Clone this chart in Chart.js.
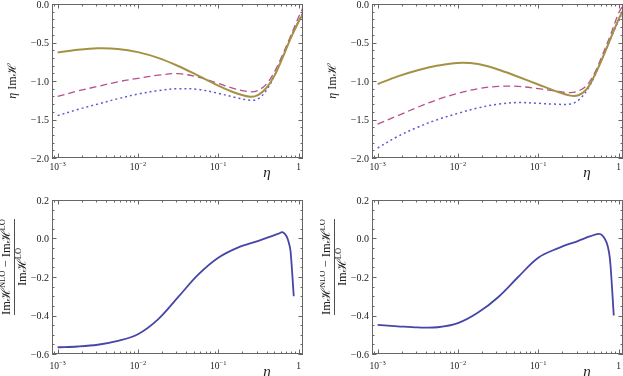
<!DOCTYPE html>
<html>
<head>
<meta charset="utf-8">
<script src="https://cdn.jsdelivr.net/npm/chart.js@4/dist/chart.umd.min.js"></script>
<style>
  html, body { margin: 0; padding: 0; background: #fff; }
  #wrap { position: relative; width: 623px; height: 376px; overflow: hidden; }
  .panel { position: absolute; }
</style>
</head>
<body>
<div id="wrap">
  <div class="panel" style="left:0;top:0"><canvas id="c-tl" width="320" height="185"></canvas></div>
  <div class="panel" style="left:320px;top:0"><canvas id="c-tr" width="303" height="185"></canvas></div>
  <div class="panel" style="left:0;top:185px"><canvas id="c-bl" width="320" height="191"></canvas></div>
  <div class="panel" style="left:320px;top:185px"><canvas id="c-br" width="303" height="191"></canvas></div>
</div>
<script>
// ── Data ──────────────────────────────────────────────────────────────────
const etaTop = [0.001, 0.00178, 0.00316, 0.00562, 0.01, 0.0178, 0.0316, 0.0562, 0.1,
                0.158, 0.251, 0.316, 0.398, 0.501, 0.631, 0.794, 1.0, 1.12];

const tlSolid  = [-0.63, -0.595, -0.575, -0.583, -0.625, -0.70, -0.805, -0.93, -1.06,
                  -1.15, -1.205, -1.18, -1.09, -0.93, -0.70, -0.45, -0.23, -0.14];
const tlDashed = [-1.20, -1.13, -1.07, -1.01, -0.965, -0.925, -0.905, -0.95, -1.03,
                  -1.10, -1.14, -1.12, -1.04, -0.88, -0.66, -0.42, -0.17, -0.06];
const tlDotted = [-1.45, -1.37, -1.30, -1.23, -1.17, -1.125, -1.10, -1.11, -1.16,
                  -1.21, -1.25, -1.23, -1.12, -0.93, -0.69, -0.44, -0.22, -0.12];

const trSolid  = [-1.04, -0.94, -0.86, -0.80, -0.765, -0.78, -0.85, -0.945, -1.045,
                  -1.125, -1.19, -1.185, -1.11, -0.93, -0.70, -0.45, -0.20, -0.10];
const trDashed = [-1.56, -1.45, -1.34, -1.24, -1.16, -1.10, -1.07, -1.07, -1.10,
                  -1.13, -1.15, -1.13, -1.06, -0.90, -0.66, -0.40, -0.12, -0.03];
const trDotted = [-1.87, -1.72, -1.60, -1.50, -1.42, -1.35, -1.30, -1.28, -1.29,
                  -1.30, -1.30, -1.25, -1.13, -0.94, -0.70, -0.45, -0.22, -0.16];

const etaBottom = [0.001, 0.00178, 0.00316, 0.00562, 0.01, 0.0178, 0.0316, 0.0562, 0.1,
                   0.178, 0.316, 0.447, 0.562, 0.631, 0.708, 0.759, 0.794, 0.871];
const blRatio = [-0.565, -0.561, -0.552, -0.532, -0.497, -0.42, -0.305, -0.188, -0.10,
                 -0.046, -0.012, 0.01, 0.025, 0.033, 0.012, -0.025, -0.065, -0.30];
const brRatio = [-0.449, -0.456, -0.462, -0.461, -0.44, -0.385, -0.305, -0.20, -0.10,
                 -0.05, -0.012, 0.012, 0.024, 0.015, -0.02, -0.07, -0.14, -0.40];

const xTickValues = [0.001, 0.01, 0.1, 1];
const xTickLabels = [['10', '−3'], ['10', '−2'], ['10', '−1'], ['1', '']];
const yTicksTop    = [0, -0.5, -1, -1.5, -2];
const yTicksBottom = [0.2, 0, -0.2, -0.4, -0.6];

// ── Styles ────────────────────────────────────────────────────────────────
const SERIF = '"Liberation Serif", "DejaVu Serif", serif';
const FRAME = '#666';
const TEXT  = '#222';
const GOLD    = { borderColor: '#a39243', borderWidth: 2 };
const DASHED  = { borderColor: '#b5508f', borderWidth: 1.3, borderDash: [7, 4] };
const DOTTED  = { borderColor: '#5b5bcf', borderWidth: 1.5, borderDash: [2, 3] };
const RATIO   = { borderColor: '#4646a8', borderWidth: 1.8 };

function font(p) { return `${p[3] || ''} ${p[1]}px ${SERIF}`; }

// draw a run of text pieces [text, size, rise, style]
function runs(ctx, parts, x, y, align) {
  let w = 0;
  parts.forEach(p => { ctx.font = font(p); w += ctx.measureText(p[0]).width; });
  let cx = align === 'center' ? x - w / 2 : align === 'right' ? x - w : x;
  ctx.textAlign = 'left';
  ctx.textBaseline = 'alphabetic';
  parts.forEach(p => {
    ctx.font = font(p);
    ctx.fillText(p[0], cx, y - (p[2] || 0));
    cx += ctx.measureText(p[0]).width;
  });
  return w;
}

// ── Frame, inner ticks, labels (Mathematica look) ─────────────────────────
const framePlugin = {
  id: 'frame',
  afterDatasetsDraw(chart, args, o) {
    const { ctx, chartArea: a, scales: { x, y } } = chart;
    ctx.save();
    ctx.strokeStyle = FRAME;
    ctx.lineWidth = 1;
    ctx.strokeRect(a.left + 0.5, a.top + 0.5, a.right - a.left - 1, a.bottom - a.top - 1);

    ctx.beginPath();
    for (let d = -4; d <= 0; d++) {
      for (let m = 1; m <= 9; m++) {
        const v = m * Math.pow(10, d);
        if (v < x.min || v > x.max) continue;
        const px = Math.round(x.getPixelForValue(v)) + 0.5;
        const len = m === 1 ? 4.5 : 2.5;
        ctx.moveTo(px, a.bottom); ctx.lineTo(px, a.bottom - len);
        ctx.moveTo(px, a.top); ctx.lineTo(px, a.top + len);
      }
    }
    const n = Math.round((o.yMax - o.yMin) / o.yMinor);
    for (let i = 0; i <= n; i++) {
      const v = o.yMin + i * o.yMinor;
      const major = Math.abs(v / o.yMajor - Math.round(v / o.yMajor)) < 1e-6;
      const py = Math.round(y.getPixelForValue(v)) + 0.5;
      const len = major ? 4.5 : 2.5;
      ctx.moveTo(a.left, py); ctx.lineTo(a.left + len, py);
      ctx.moveTo(a.right, py); ctx.lineTo(a.right - len, py);
    }
    ctx.stroke();

    ctx.fillStyle = TEXT;
    // y tick labels
    o.yLabels.forEach(v => {
      const py = y.getPixelForValue(v);
      const s = v.toFixed(1).replace('-', '−');
      runs(ctx, [[s, 10]], a.left - 3, py + 3.5, 'right');
    });
    // x tick labels
    xTickValues.forEach((v, i) => {
      const px = x.getPixelForValue(v);
      const [base, sup] = xTickLabels[i];
      const parts = [[base, 9.5]];
      if (sup) parts.push([sup, 6.5, 4]);
      runs(ctx, parts, px, a.bottom + o.xLabelDy, 'center');
    });
    // eta axis title
    runs(ctx, [['η', 15, 0, 'italic']], 267, a.bottom + o.etaDy, 'center');

    // y axis title (rotated)
    ctx.translate(o.titleX, o.titleY);
    ctx.rotate(-Math.PI / 2);
    if (o.ratio) {
      const num = [['Imℋ', 12.5], ['NLO', 8.5, 5], [' − ', 12.5], ['Imℋ', 12.5], ['LO', 8.5, 5]];
      const den = [['Imℋ', 12.5], ['LO', 8.5, 5]];
      const w = runs(ctx, num, 0, -4, 'center');
      runs(ctx, den, 0, 12, 'center');
      ctx.beginPath();
      ctx.strokeStyle = TEXT;
      ctx.lineWidth = 0.8;
      ctx.moveTo(-w / 2, 0.5); ctx.lineTo(w / 2, 0.5);
      ctx.stroke();
    } else {
      runs(ctx, [['η', 12, 0, 'italic'], [' Imℋ', 12]], 0, 4, 'center');
    }
    ctx.restore();
  }
};

// ── Panel factory ─────────────────────────────────────────────────────────
function panel(id, xs, series, cfg) {
  const canvas = document.getElementById(id);
  const H = canvas.height;
  new Chart(canvas, {
    type: 'line',
    data: {
      datasets: series.map(s => Object.assign({
        data: xs.map((x, i) => ({ x, y: s.values[i] })),
        pointRadius: 0,
        fill: false,
        tension: 0.35,
      }, s.style)),
    },
    options: {
      responsive: false,
      animation: false,
      events: [],
      layout: { padding: { top: cfg.top, right: cfg.right, left: 0, bottom: 0 } },
      plugins: {
        legend: { display: false },
        tooltip: { enabled: false },
        frame: cfg.frame,
      },
      scales: {
        x: {
          type: 'logarithmic',
          min: Math.pow(10, -3.07),
          max: Math.pow(10, 0.055),
          grid: { display: false },
          border: { display: false },
          ticks: { display: false },
          afterFit: s => { s.height = H - cfg.bottom; },
        },
        y: {
          min: cfg.frame.yMin,
          max: cfg.frame.yMax,
          grid: { display: false },
          border: { display: false },
          ticks: { display: false },
          afterFit: s => { s.width = 52; },
        },
      },
    },
    plugins: [framePlugin],
  });
}

const topFrame = {
  yMin: -2, yMax: 0, yMajor: 0.5, yMinor: 0.1, yLabels: yTicksTop,
  xLabelDy: 12, etaDy: 19, titleX: 12, titleY: 81, ratio: false,
};
const bottomFrame = {
  yMin: -0.6, yMax: 0.2, yMajor: 0.2, yMinor: 0.05, yLabels: yTicksBottom,
  xLabelDy: 15, etaDy: 22, titleX: 14, titleY: 82, ratio: true,
};

panel('c-tl', etaTop, [
  { values: tlSolid, style: GOLD },
  { values: tlDashed, style: DASHED },
  { values: tlDotted, style: DOTTED },
], { top: 4, right: 17, bottom: 158, frame: topFrame });

panel('c-tr', etaTop, [
  { values: trSolid, style: GOLD },
  { values: trDashed, style: DASHED },
  { values: trDotted, style: DOTTED },
], { top: 4, right: 0, bottom: 158, frame: topFrame });

panel('c-bl', etaBottom, [
  { values: blRatio, style: RATIO },
], { top: 15, right: 17, bottom: 169, frame: bottomFrame });

panel('c-br', etaBottom, [
  { values: brRatio, style: RATIO },
], { top: 15, right: 0, bottom: 169, frame: bottomFrame });
</script>
</body>
</html>
